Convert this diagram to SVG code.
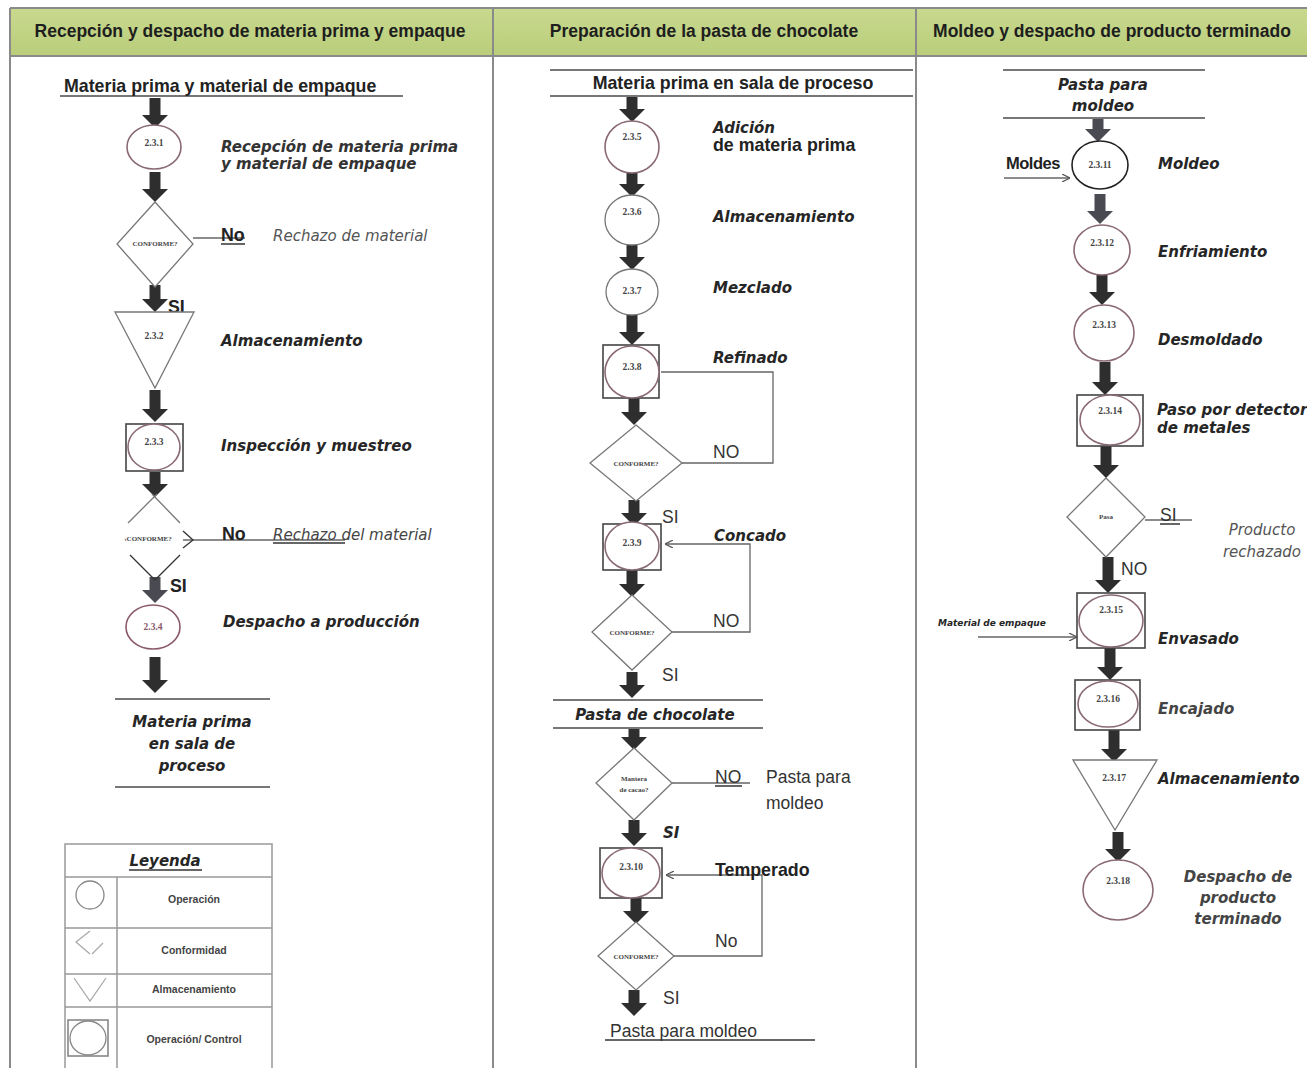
<svg xmlns="http://www.w3.org/2000/svg" width="1307" height="1068" viewBox="0 0 1307 1068">
<defs>
<linearGradient id="hdr" x1="0" y1="0" x2="0" y2="1"><stop offset="0" stop-color="#c9d98f"/><stop offset="1" stop-color="#b9cd7a"/></linearGradient>
<marker id="fh" viewBox="0 -13 13 26" refX="0" refY="0" markerWidth="13" markerHeight="26" markerUnits="userSpaceOnUse" orient="auto"><path d="M0,-13 L13,0 L0,13 z" fill="#2e2e2e"/></marker>
<marker id="fhg" viewBox="0 -13 13 26" refX="0" refY="0" markerWidth="13" markerHeight="26" markerUnits="userSpaceOnUse" orient="auto"><path d="M0,-13 L13,0 L0,13 z" fill="#4a4a52"/></marker>
<marker id="th" viewBox="0 0 8 8" refX="8" refY="4" markerWidth="8" markerHeight="8" markerUnits="userSpaceOnUse" orient="auto"><path d="M0,0 L8,4 L0,8" fill="none" stroke="#555" stroke-width="1.2"/></marker>
</defs>
<style>
.hd{font-family:"Liberation Sans",Arial,sans-serif;font-weight:bold;font-size:17.5px;fill:#1e1e1e}
.frame{stroke:#8a8a8a;stroke-width:2;fill:none}
.fat{stroke:#2e2e2e;stroke-width:11;fill:none}
.fatg{stroke:#4a4a52;stroke-width:11;fill:none}
.thin{stroke:#666;stroke-width:1.3;fill:none}
.sh{stroke:#777;stroke-width:1.3;fill:#fff}
.op{stroke:#8a6a72;stroke-width:1.6;fill:#fff}
.opk{stroke:#222;stroke-width:1.6;fill:#fff}
.box{stroke:#444;stroke-width:1.6;fill:#fff}
.bi{font-family:"DejaVu Sans",Verdana,sans-serif;font-weight:bold;font-style:italic;font-size:15px;fill:#262626}
.it{font-family:"DejaVu Sans",Verdana,sans-serif;font-style:italic;font-size:15px;fill:#555}
.b{font-family:"Liberation Sans",Arial,sans-serif;font-weight:bold;font-size:17.8px;fill:#222}
.r{font-family:"Liberation Sans",Arial,sans-serif;font-size:17.5px;fill:#333}
.n{font-family:"Liberation Serif","Times New Roman",serif;font-weight:bold;font-size:9.5px;fill:#444;text-anchor:middle}
.d{font-family:"Liberation Serif","Times New Roman",serif;font-weight:bold;font-size:7px;fill:#444;text-anchor:middle}
.lg{font-family:"Liberation Sans",Arial,sans-serif;font-weight:bold;font-size:10.5px;fill:#444;text-anchor:middle}
.ul{stroke:#333;stroke-width:1.5}
.ulg{stroke:#777;stroke-width:2}
</style>
<rect width="1307" height="1068" fill="#fff"/>
<g id="frame">
<rect x="10" y="8" width="1297" height="48" fill="url(#hdr)"/>
<line x1="10" y1="8" x2="1307" y2="8" class="frame"/>
<line x1="10" y1="56" x2="1307" y2="56" class="frame"/>
<line x1="10" y1="8" x2="10" y2="1068" class="frame"/>
<line x1="493" y1="8" x2="493" y2="1068" class="frame"/>
<line x1="916" y1="8" x2="916" y2="1068" class="frame"/>
<text x="250" y="37" class="hd" text-anchor="middle">Recepción y despacho de materia prima y empaque</text>
<text x="704" y="37" class="hd" text-anchor="middle">Preparación de la pasta de chocolate</text>
<text x="1112" y="37" class="hd" text-anchor="middle">Moldeo y despacho de producto terminado</text>
</g>
<g id="connectors">
<line x1="155" y1="98" x2="155" y2="115" class="fat" marker-end="url(#fh)"/>
<line x1="155" y1="172" x2="155" y2="189" class="fat" marker-end="url(#fh)"/>
<line x1="155" y1="285" x2="155" y2="299" class="fat" marker-end="url(#fh)"/>
<line x1="155" y1="390" x2="155" y2="409" class="fat" marker-end="url(#fh)"/>
<line x1="155" y1="472" x2="155" y2="484" class="fat" marker-end="url(#fh)"/>
<line x1="155" y1="577" x2="155" y2="590" class="fatg" marker-end="url(#fhg)"/>
<line x1="155" y1="657" x2="155" y2="680" class="fat" marker-end="url(#fh)"/>
<line x1="193" y1="238" x2="245" y2="238" class="thin"/>
<line x1="183" y1="540" x2="345" y2="540" class="thin"/>
<line x1="632" y1="97" x2="632" y2="109" class="fat" marker-end="url(#fh)"/>
<line x1="632" y1="172" x2="632" y2="184" class="fat" marker-end="url(#fh)"/>
<line x1="632" y1="245" x2="632" y2="257" class="fat" marker-end="url(#fh)"/>
<line x1="632" y1="315" x2="632" y2="332" class="fat" marker-end="url(#fh)"/>
<line x1="634" y1="398" x2="634" y2="412" class="fat" marker-end="url(#fh)"/>
<line x1="634" y1="500" x2="634" y2="513" class="fat" marker-end="url(#fh)"/>
<line x1="632" y1="570" x2="632" y2="584" class="fat" marker-end="url(#fh)"/>
<line x1="632" y1="672" x2="632" y2="685" class="fat" marker-end="url(#fh)"/>
<line x1="634" y1="728" x2="634" y2="737" class="fat" marker-end="url(#fh)"/>
<line x1="634" y1="820" x2="634" y2="833" class="fat" marker-end="url(#fh)"/>
<line x1="636" y1="898" x2="636" y2="911" class="fat" marker-end="url(#fh)"/>
<line x1="634" y1="990" x2="634" y2="1003" class="fat" marker-end="url(#fh)"/>
<polyline points="682,463 773,463 773,372 661,372" class="thin"/>
<polyline points="672,632 750,632 750,544 665,544" class="thin" marker-end="url(#th)"/>
<polyline points="674,956 762,956 762,875 666,875" class="thin" marker-end="url(#th)"/>
<line x1="671" y1="783" x2="750" y2="783" class="thin"/>
<line x1="1098" y1="118" x2="1098" y2="129" class="fatg" marker-end="url(#fhg)"/>
<line x1="1100" y1="194" x2="1100" y2="211" class="fatg" marker-end="url(#fhg)"/>
<line x1="1102" y1="275" x2="1102" y2="292" class="fat" marker-end="url(#fh)"/>
<line x1="1105" y1="362" x2="1105" y2="382" class="fat" marker-end="url(#fh)"/>
<line x1="1106" y1="446" x2="1106" y2="465" class="fat" marker-end="url(#fh)"/>
<line x1="1108" y1="557" x2="1108" y2="580" class="fat" marker-end="url(#fh)"/>
<line x1="1110" y1="648" x2="1110" y2="667" class="fat" marker-end="url(#fh)"/>
<line x1="1114" y1="730" x2="1114" y2="749" class="fat" marker-end="url(#fh)"/>
<line x1="1118" y1="832" x2="1118" y2="849" class="fat" marker-end="url(#fh)"/>
<line x1="1004" y1="178" x2="1070" y2="178" class="thin" marker-end="url(#th)"/>
<line x1="1145" y1="520" x2="1192" y2="520" class="thin"/>
<line x1="978" y1="637" x2="1077" y2="637" class="thin" marker-end="url(#th)"/>
</g>
<g id="col1-start"><line x1="60" y1="96" x2="403" y2="96" class="ulg"/><text x="64" y="92" class="b" style="font-size:17.8px">Materia prima y material de empaque</text></g>
<g id="n231"><ellipse cx="154" cy="147" rx="27" ry="22" class="op"/><text x="154" y="146" class="n">2.3.1</text><text x="221" y="152" class="bi" style="fill:#333">Recepción de materia prima</text><text x="221" y="169" class="bi" style="fill:#333">y material de empaque</text></g>
<g id="c1"><polygon points="155,202 193,244 155,287 117,244" class="sh"/><text x="155" y="246" class="d">CONFORME?</text><text x="221" y="241" class="b">No</text><line x1="221" y1="244" x2="245" y2="244" class="ul"/><text x="273" y="241" class="it">Rechazo de material</text><text x="168" y="313" class="b">SI</text></g>
<g id="n232"><polygon points="115,312 194,312 155,388" class="sh"/><text x="154" y="339" class="n">2.3.2</text><text x="221" y="346" class="bi">Almacenamiento</text></g>
<g id="n233"><rect x="126" y="424" width="57" height="47" class="box"/><ellipse cx="154" cy="447" rx="26" ry="23" class="op"/><text x="154" y="445" class="n">2.3.3</text><text x="221" y="451" class="bi">Inspección y muestreo</text></g>
<g id="c2"><path d="M128,523 L157,494 M152,494 L180,523" class="sh" style="fill:none"/><text x="148" y="541" class="d">‹CONFORME?</text><path d="M183,531 L193,540 L183,548" class="thin" style="stroke:#333"/><path d="M130,555 L155,580 M180,555 L155,580" class="thin" style="stroke:#333"/><text x="222" y="540" class="b">No</text><text x="273" y="540" class="it" style="fill:#444">Rechazo del material</text><line x1="273" y1="543" x2="345" y2="543" class="ul"/><text x="170" y="592" class="b">SI</text></g>
<g id="n234"><ellipse cx="153" cy="627" rx="27" ry="22" class="op" style="stroke:#8a5a68"/><text x="153" y="630" class="n" style="fill:#8a5a68">2.3.4</text><text x="223" y="627" class="bi">Despacho a producción</text></g>
<g id="col1-end"><line x1="115" y1="699" x2="270" y2="699" class="ulg"/><text x="192" y="727" class="bi" text-anchor="middle">Materia prima</text><text x="192" y="749" class="bi" text-anchor="middle">en sala de</text><text x="192" y="771" class="bi" text-anchor="middle">proceso</text><line x1="115" y1="787" x2="270" y2="787" class="ulg"/></g>
<g id="legend">
<rect x="65" y="844" width="207" height="230" fill="#fff" stroke="#999" stroke-width="1.5"/>
<line x1="65" y1="877" x2="272" y2="877" stroke="#999" stroke-width="1.5"/>
<line x1="65" y1="928" x2="272" y2="928" stroke="#999" stroke-width="1.5"/>
<line x1="65" y1="974" x2="272" y2="974" stroke="#999" stroke-width="1.5"/>
<line x1="65" y1="1007" x2="272" y2="1007" stroke="#999" stroke-width="1.5"/>
<line x1="117" y1="877" x2="117" y2="1068" stroke="#999" stroke-width="1.5"/>
<text x="165" y="866" class="bi" text-anchor="middle">Leyenda</text><line x1="129" y1="870" x2="202" y2="870" class="ul"/>
<circle cx="90" cy="895" r="14" fill="none" stroke="#888" stroke-width="1.3"/>
<path d="M90,931 L76,942 L90,954 M92,954 L103,943" fill="none" stroke="#aaa" stroke-width="1.3"/>
<path d="M74,978 L90,1001 L106,978" fill="none" stroke="#aaa" stroke-width="1.3"/>
<rect x="68" y="1020" width="40" height="36" fill="none" stroke="#888" stroke-width="1.6"/><ellipse cx="88" cy="1038" rx="18" ry="17" fill="none" stroke="#888" stroke-width="1.3"/>
<text x="194" y="903" class="lg">Operación</text>
<text x="194" y="954" class="lg">Conformidad</text>
<text x="194" y="993" class="lg">Almacenamiento</text>
<text x="194" y="1043" class="lg">Operación/ Control</text>
</g>
<g id="col2-start"><line x1="550" y1="70" x2="913" y2="70" class="ulg"/><text x="733" y="89" class="b" text-anchor="middle">Materia prima en sala de proceso</text><line x1="550" y1="96" x2="913" y2="96" class="ulg"/></g>
<g id="n235"><ellipse cx="632" cy="147" rx="27" ry="26" class="op"/><text x="632" y="140" class="n">2.3.5</text><text x="713" y="133" class="bi">Adición</text><text x="713" y="151" class="b">de materia prima</text></g>
<g id="n236"><ellipse cx="632" cy="220" rx="27" ry="25" class="sh"/><text x="632" y="215" class="n">2.3.6</text><text x="713" y="222" class="bi">Almacenamiento</text></g>
<g id="n237"><ellipse cx="632" cy="292" rx="26" ry="23" class="sh"/><text x="632" y="294" class="n">2.3.7</text><text x="713" y="293" class="bi">Mezclado</text></g>
<g id="n238"><rect x="603" y="345" width="56" height="53" class="box"/><ellipse cx="632" cy="372" rx="27" ry="26" class="op"/><text x="632" y="370" class="n">2.3.8</text><text x="713" y="363" class="bi">Refinado</text></g>
<g id="c3"><polygon points="636,425 682,463 636,501 590,463" class="sh"/><text x="636" y="466" class="d">CONFORME?</text><text x="713" y="458" class="r">NO</text><text x="662" y="523" class="r">SI</text></g>
<g id="n239"><rect x="603" y="524" width="58" height="46" class="box"/><ellipse cx="632" cy="546" rx="27" ry="24" class="op"/><text x="632" y="546" class="n">2.3.9</text><text x="714" y="541" class="bi">Concado</text></g>
<g id="c4"><polygon points="632,595 672,632 632,670 592,632" class="sh"/><text x="632" y="635" class="d">CONFORME?</text><text x="713" y="627" class="r">NO</text><text x="662" y="681" class="r">SI</text></g>
<g id="col2-mid"><line x1="553" y1="700" x2="763" y2="700" class="ulg"/><text x="655" y="720" class="bi" text-anchor="middle">Pasta de chocolate</text><line x1="553" y1="728" x2="763" y2="728" class="ulg"/></g>
<g id="c5"><polygon points="634,748 672,783 634,820 596,783" class="sh"/><text x="634" y="781" class="d">Mantera</text><text x="634" y="792" class="d">de cacao?</text><text x="715" y="783" class="r">NO</text><line x1="715" y1="786" x2="742" y2="786" class="ul"/><text x="766" y="783" class="r">Pasta para</text><text x="766" y="809" class="r">moldeo</text><text x="663" y="838" class="bi">SI</text></g>
<g id="n2310"><rect x="600" y="848" width="62" height="50" class="box"/><ellipse cx="631" cy="873" rx="29" ry="25" class="op"/><text x="631" y="870" class="n">2.3.10</text><text x="715" y="876" class="b">Temperado</text></g>
<g id="c6"><polygon points="636,922 674,956 636,990 598,956" class="sh"/><text x="636" y="959" class="d">CONFORME?</text><text x="715" y="947" class="r">No</text><text x="663" y="1004" class="r">SI</text></g>
<g id="col2-end"><text x="610" y="1037" class="r">Pasta para moldeo</text><line x1="605" y1="1040" x2="815" y2="1040" class="ul"/></g>
<g id="col3-start"><line x1="1003" y1="70" x2="1205" y2="70" class="ulg"/><text x="1103" y="90" class="bi" text-anchor="middle">Pasta para</text><text x="1103" y="111" class="bi" text-anchor="middle">moldeo</text><line x1="1003" y1="118" x2="1205" y2="118" class="ulg"/></g>
<g id="n2311"><ellipse cx="1100" cy="165" rx="28" ry="24" class="opk"/><text x="1100" y="168" class="n">2.3.11</text><text x="1006" y="169" class="b" style="font-size:16.5px;letter-spacing:-0.5px">Moldes</text><text x="1158" y="169" class="bi">Moldeo</text></g>
<g id="n2312"><ellipse cx="1102" cy="250" rx="28" ry="25" class="op"/><text x="1102" y="246" class="n">2.3.12</text><text x="1158" y="257" class="bi">Enfriamiento</text></g>
<g id="n2313"><ellipse cx="1104" cy="333" rx="30" ry="28" class="op"/><text x="1104" y="328" class="n">2.3.13</text><text x="1158" y="345" class="bi">Desmoldado</text></g>
<g id="n2314"><rect x="1077" y="395" width="66" height="51" class="box"/><ellipse cx="1110" cy="420" rx="30" ry="25" class="op"/><text x="1110" y="414" class="n">2.3.14</text><text x="1157" y="415" class="bi">Paso por detector</text><text x="1157" y="433" class="bi">de metales</text></g>
<g id="c7"><polygon points="1106,478 1145,517 1106,557 1067,517" class="sh"/><text x="1106" y="519" class="d">Pasa</text><text x="1160" y="521" class="r">SI</text><line x1="1160" y1="524" x2="1180" y2="524" class="ul"/><text x="1262" y="535" class="it" text-anchor="middle">Producto</text><text x="1262" y="557" class="it" text-anchor="middle">rechazado</text><text x="1121" y="575" class="r">NO</text></g>
<g id="n2315"><rect x="1077" y="593" width="68" height="55" class="box"/><ellipse cx="1111" cy="621" rx="32" ry="26" class="op"/><text x="1111" y="613" class="n">2.3.15</text><text x="938" y="626" class="bi" style="font-size:9px">Material de empaque</text><text x="1158" y="644" class="bi">Envasado</text></g>
<g id="n2316"><rect x="1075" y="680" width="65" height="50" class="box"/><ellipse cx="1108" cy="704" rx="30" ry="23" class="op"/><text x="1108" y="702" class="n">2.3.16</text><text x="1158" y="714" class="bi" style="fill:#444">Encajado</text></g>
<g id="n2317"><polygon points="1073,760 1157,760 1115,830" class="sh"/><text x="1114" y="781" class="n">2.3.17</text><text x="1158" y="784" class="bi">Almacenamiento</text></g>
<g id="n2318"><ellipse cx="1118" cy="890" rx="35" ry="30" class="op"/><text x="1118" y="884" class="n">2.3.18</text><text x="1238" y="882" class="bi" text-anchor="middle" style="fill:#444">Despacho de</text><text x="1238" y="903" class="bi" text-anchor="middle" style="fill:#444">producto</text><text x="1238" y="924" class="bi" text-anchor="middle" style="fill:#444">terminado</text></g>
</svg>
